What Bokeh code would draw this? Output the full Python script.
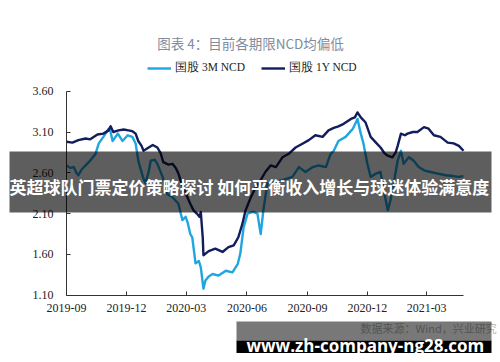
import pandas as pd
from bokeh.plotting import figure
from bokeh.models import (ColumnDataSource, Range1d, FixedTicker, NumeralTickFormatter,
                          Legend, LegendItem, Label, BoxAnnotation)
from bokeh.embed import file_html
from bokeh.resources import INLINE

# ---------------- data ----------------
dates_1y = ["2019-09-01", "2019-09-10", "2019-09-19", "2019-09-30", "2019-10-07", "2019-10-18",
            "2019-10-27", "2019-11-04", "2019-11-07", "2019-11-11", "2019-11-19", "2019-11-27",
            "2019-12-04", "2019-12-10", "2019-12-15", "2019-12-19", "2019-12-24", "2019-12-27",
            "2020-01-02", "2020-01-10", "2020-01-17", "2020-01-22", "2020-01-26", "2020-02-03",
            "2020-02-09", "2020-02-14", "2020-02-18", "2020-02-24", "2020-03-01", "2020-03-07",
            "2020-03-12", "2020-03-17", "2020-03-21", "2020-03-23", "2020-03-26", "2020-03-27",
            "2020-04-04", "2020-04-14", "2020-04-25", "2020-05-04", "2020-05-12", "2020-05-19",
            "2020-05-25", "2020-05-30", "2020-06-07", "2020-06-13", "2020-06-19", "2020-06-29",
            "2020-07-07", "2020-07-15", "2020-07-25", "2020-08-03", "2020-08-14", "2020-08-25",
            "2020-09-03", "2020-09-13", "2020-09-24", "2020-10-03", "2020-10-11", "2020-10-18",
            "2020-10-26", "2020-11-06", "2020-11-12", "2020-11-16", "2020-11-21", "2020-11-28",
            "2020-12-06", "2020-12-14", "2020-12-21", "2020-12-27", "2021-01-01", "2021-01-08",
            "2021-01-13", "2021-01-16", "2021-01-21", "2021-01-27", "2021-01-31", "2021-02-08",
            "2021-02-15", "2021-02-25", "2021-03-04", "2021-03-12", "2021-03-22", "2021-04-02",
            "2021-04-11", "2021-04-19", "2021-04-26"]
ncd_1y = [2.98, 2.97, 3.00, 3.02, 3.01, 3.07,
          3.08, 3.12, 3.17, 3.10, 3.12, 3.13,
          3.12, 3.11, 3.08, 2.99, 2.93, 2.87,
          2.90, 2.94, 2.91, 2.84, 2.73, 2.70,
          2.71, 2.66, 2.59, 2.44, 2.33, 2.22,
          2.14, 2.10, 2.06, 2.12, 1.80, 1.59,
          1.64, 1.67, 1.63, 1.69, 1.71, 1.81,
          1.97, 2.14, 2.30, 2.40, 2.47, 2.61,
          2.69, 2.67, 2.79, 2.83, 2.91, 2.96,
          3.00, 3.06, 3.04, 3.12, 3.15, 3.17,
          3.20, 3.26, 3.28, 3.34, 3.28, 3.22,
          3.04, 2.97, 2.91, 2.84, 2.81, 2.79,
          2.85, 2.93, 3.08, 3.06, 3.08, 3.10,
          3.10, 3.16, 3.14, 3.06, 3.04, 2.97,
          2.96, 2.93, 2.87]

dates_3m = ["2019-09-01", "2019-09-07", "2019-09-12", "2019-09-16", "2019-09-19", "2019-09-24",
            "2019-09-30", "2019-10-07", "2019-10-15", "2019-10-20", "2019-10-27", "2019-11-04",
            "2019-11-07", "2019-11-10", "2019-11-18", "2019-11-25", "2019-12-03", "2019-12-10",
            "2019-12-15", "2019-12-19", "2019-12-26", "2019-12-30", "2020-01-04", "2020-01-07",
            "2020-01-13", "2020-01-17", "2020-01-25", "2020-02-01", "2020-02-09", "2020-02-18",
            "2020-02-24", "2020-02-29", "2020-03-03", "2020-03-07", "2020-03-10", "2020-03-15",
            "2020-03-20", "2020-03-23", "2020-03-27", "2020-03-30", "2020-04-04", "2020-04-10",
            "2020-04-19", "2020-04-30", "2020-05-10", "2020-05-18", "2020-05-22", "2020-05-27",
            "2020-06-02", "2020-06-10", "2020-06-17", "2020-06-22", "2020-06-26", "2020-07-02",
            "2020-07-15", "2020-07-25", "2020-08-09", "2020-08-19", "2020-08-29", "2020-09-09",
            "2020-09-18", "2020-09-29", "2020-10-06", "2020-10-11", "2020-10-18", "2020-10-29",
            "2020-11-09", "2020-11-16", "2020-11-21", "2020-11-25", "2020-12-01", "2020-12-06",
            "2020-12-14", "2020-12-21", "2020-12-26", "2021-01-01", "2021-01-05", "2021-01-10",
            "2021-01-16", "2021-01-21", "2021-01-25", "2021-02-02", "2021-02-09", "2021-02-17",
            "2021-02-25", "2021-03-07", "2021-03-18", "2021-03-30", "2021-04-10", "2021-04-19",
            "2021-04-26"]
ncd_3m = [2.69, 2.66, 2.67, 2.60, 2.57, 2.64,
          2.69, 2.75, 2.83, 2.96, 3.04, 3.14,
          3.10, 2.99, 3.08, 2.99, 3.06, 3.04,
          2.96, 2.75, 2.55, 2.47, 2.62, 2.75,
          2.76, 2.71, 2.55, 2.34, 2.30, 2.22,
          2.02, 2.06, 1.99, 1.85, 1.81, 1.49,
          1.52, 1.44, 1.18, 1.28, 1.33, 1.36,
          1.34, 1.40, 1.38, 1.48, 1.61, 1.93,
          2.10, 2.12, 2.10, 1.85, 2.14, 2.47,
          2.49, 2.51, 2.55, 2.67, 2.61, 2.67,
          2.69, 2.67, 2.83, 2.87, 2.99, 3.04,
          3.14, 3.26, 3.08, 2.96, 2.71, 2.55,
          2.59, 2.61, 2.38, 2.14, 2.26, 2.47,
          2.75, 2.87, 2.71, 2.79, 2.75, 2.67,
          2.63, 2.61, 2.59, 2.57, 2.56, 2.55,
          2.56]

x_tick_dates = ["2019-09-01", "2019-12-01", "2020-03-01", "2020-06-01",
                "2020-09-01", "2020-12-01", "2021-03-01"]
x_tick_labels = ["2019-09", "2019-12", "2020-03", "2020-06", "2020-09", "2020-12", "2021-03"]
y_ticks = [1.10, 1.60, 2.10, 2.60, 3.10, 3.60]
x_axis_span = ["2019-09-01", "2021-04-26"]
y_axis_span = [1.10, 3.60]

series_names = ["国股 3M NCD", "国股 1Y NCD"]
title_text = "图表 4：目前各期限NCD均偏低"
source_text = "数据来源：Wind，兴业研究"
banner_text = "英超球队门票定价策略探讨 如何平衡收入增长与球迷体验满意度"
url_text = "www.zh-company-ng28.com"

# ---------------- layout geometry (canvas pixels) ----------------
W, H = 500, 362
AX_LEFT, AX_RIGHT = 66.0, 463.0      # x-axis extent on the canvas
AX_TOP, AX_BOTTOM = 90.7, 294.7      # y-axis extent on the canvas

x0 = pd.Timestamp(x_axis_span[0])
x1 = pd.Timestamp(x_axis_span[1])
ppd = (AX_RIGHT - AX_LEFT) / ((x1 - x0).total_seconds() / 86400)
xr_start = x0 - pd.Timedelta(days=AX_LEFT / ppd)
xr_end = x1 + pd.Timedelta(days=(W - AX_RIGHT) / ppd)
ppu = (AX_BOTTOM - AX_TOP) / (y_axis_span[1] - y_axis_span[0])
yr_start = y_axis_span[0] - (H - AX_BOTTOM) / ppu
yr_end = y_axis_span[1] + AX_TOP / ppu

C3M = "#1fa6e0"
C1Y = "#111d5c"
SERIF = "Liberation Serif"

p = figure(width=W, height=H, output_backend="svg", toolbar_location=None,
           x_axis_type="datetime",
           x_range=Range1d(xr_start, xr_end), y_range=Range1d(yr_start, yr_end),
           min_border=0, min_border_left=0, min_border_right=0,
           min_border_top=0, min_border_bottom=0)
p.outline_line_color = None
p.xgrid.visible = False
p.ygrid.visible = False
p.background_fill_color = "white"
p.border_fill_color = "white"

src3 = ColumnDataSource(dict(x=pd.to_datetime(dates_3m), y=ncd_3m))
src1 = ColumnDataSource(dict(x=pd.to_datetime(dates_1y), y=ncd_1y))
r3 = p.line("x", "y", source=src3, line_color=C3M, line_width=2.4, line_join="round")
r1 = p.line("x", "y", source=src1, line_color=C1Y, line_width=2.4, line_join="round")

to_ms = lambda d: pd.Timestamp(d).value / 1e6
tick_ms = [to_ms(d) for d in x_tick_dates]
p.xaxis.ticker = FixedTicker(ticks=tick_ms)
p.xaxis.major_label_overrides = {t: lab for t, lab in zip(tick_ms, x_tick_labels)}
p.xaxis.fixed_location = y_axis_span[0]
p.xaxis.bounds = (to_ms(x_axis_span[0]), to_ms(x_axis_span[1]))
p.yaxis.ticker = FixedTicker(ticks=y_ticks)
p.yaxis.formatter = NumeralTickFormatter(format="0.00")
p.yaxis.fixed_location = to_ms(x_axis_span[0])
p.yaxis.bounds = (y_axis_span[0], y_axis_span[1])

for ax in (p.xaxis, p.yaxis):
    ax.axis_line_color = "#333333"
    ax.axis_line_width = 1
    ax.major_tick_line_color = "#333333"
    ax.major_tick_in = 4
    ax.major_tick_out = 0
    ax.minor_tick_line_color = None
    ax.major_label_text_font = SERIF
    ax.major_label_text_font_size = "12px"
    ax.major_label_text_color = "#222222"
p.yaxis.major_label_standoff = 13
p.xaxis.major_label_standoff = 9

legend = Legend(items=[LegendItem(label=series_names[0], renderers=[r3]),
                       LegendItem(label=series_names[1], renderers=[r1])],
                orientation="horizontal", location=(147, H - 77.5),
                padding=0, margin=0, spacing=16, glyph_width=24, label_standoff=4,
                label_text_font=SERIF, label_text_font_size="11.5px",
                label_text_color="#222222",
                border_line_alpha=0, background_fill_alpha=0)
p.add_layout(legend, "center")

p.add_layout(Label(x=250, y=42, x_units="canvas", y_units="canvas", text=title_text,
                   text_align="center", text_baseline="middle",
                   text_font="Noto Sans CJK SC", text_font_size="13.5px",
                   text_color="#7f8ca0"))

# overlay banner
p.add_layout(BoxAnnotation(left=9, right=491, top=151, bottom=212,
                           left_units="canvas", right_units="canvas",
                           top_units="canvas", bottom_units="canvas",
                           fill_color="black", fill_alpha=0.63, line_alpha=0))
p.add_layout(Label(x=9, y=186, x_units="canvas", y_units="canvas", text=banner_text,
                   text_align="left", text_baseline="middle",
                   text_font="Noto Sans CJK SC", text_font_size="17px",
                   text_font_style="bold", text_color="white"))

# source + bottom overlay
p.add_layout(Label(x=360, y=327, x_units="canvas", y_units="canvas", text=source_text,
                   text_align="left", text_baseline="middle",
                   text_font="Noto Sans CJK SC", text_font_size="11px",
                   text_color="#b4b4b4"))
p.add_layout(BoxAnnotation(left=236, right=491, top=321, bottom=340,
                           left_units="canvas", right_units="canvas",
                           top_units="canvas", bottom_units="canvas",
                           fill_color="black", fill_alpha=0.53, line_alpha=0))
p.add_layout(BoxAnnotation(left=236, right=491, top=340, bottom=352.5,
                           left_units="canvas", right_units="canvas",
                           top_units="canvas", bottom_units="canvas",
                           fill_color="black", fill_alpha=1.0, line_alpha=0))
p.add_layout(Label(x=246, y=345, x_units="canvas", y_units="canvas", text=url_text,
                   text_align="left", text_baseline="alphabetic",
                   text_font="Open Sans", text_font_size="17px",
                   text_font_style="bold", text_color="white"))

open("out.html", "w").write(file_html(p, INLINE))
